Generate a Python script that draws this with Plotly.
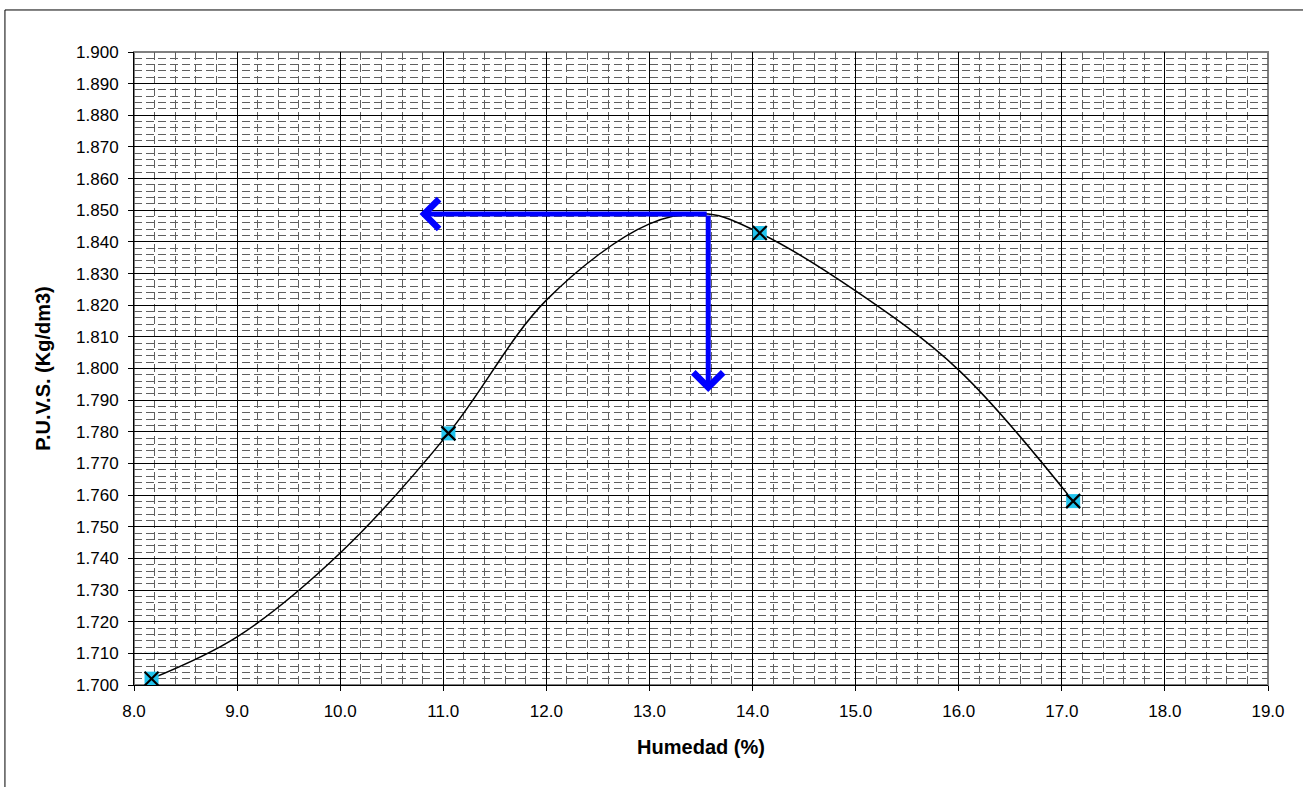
import plotly.graph_objects as go

# Measured points (markers)
hum_pts = [8.17, 11.05, 14.07, 17.11]
dens_pts = [1.702, 1.7795, 1.8428, 1.7581]

# Compaction curve
curve_x = [8.17, 9.0, 10.0, 11.05, 12.0, 13.0, 13.57, 14.07, 15.0, 16.0, 17.11]
curve_y = [1.702, 1.7152, 1.7417, 1.7795, 1.8216, 1.8457, 1.8488, 1.8428, 1.8245, 1.7995, 1.7581]

# Optimum (arrows)
hum_opt = 13.57
dens_max = 1.8488
arrow_left_x = 10.77
arrow_down_y = 1.7926

x_ticks = [8.0 + i for i in range(12)]
y_ticks = [round(1.70 + 0.01 * i, 3) for i in range(21)]

FONT = "Liberation Sans, Arial, sans-serif"

fig = go.Figure()

fig.add_trace(go.Scatter(x=curve_x, y=curve_y, mode="lines",
                         line=dict(color="black", width=1.5, shape="spline", smoothing=1.0),
                         hoverinfo="skip", showlegend=False))
fig.add_trace(go.Scatter(x=hum_pts, y=dens_pts, mode="markers",
                         marker=dict(symbol="square", size=14, color="#22C4EE",
                                     line=dict(width=0)),
                         showlegend=False))
fig.add_trace(go.Scatter(x=hum_pts, y=dens_pts, mode="markers",
                         marker=dict(symbol="x-thin-open", size=14, color="black",
                                     line=dict(width=2.2, color="black")),
                         showlegend=False))

axis_common = dict(
    showline=True, linecolor="black", linewidth=1,
    ticks="outside", ticklen=5, tickcolor="black", tickwidth=1,
    showgrid=True, gridcolor="black", gridwidth=1,
    zeroline=False,
    tickfont=dict(family=FONT, size=17, color="black"),
)

fig.update_xaxes(
    range=[8.0, 19.0], tickmode="array", tickvals=x_ticks,
    ticktext=[f"{v:.1f}" for v in x_ticks],
    minor=dict(dtick=0.2, tick0=8.0, showgrid=True, gridcolor="#606060",
               griddash="8px,4px", gridwidth=1, ticks=""),
    title=dict(text="<b>Humedad (%)</b>", font=dict(family=FONT, size=20, color="black"),
               standoff=19),
    ticklabelstandoff=6,
    **axis_common,
)
fig.update_yaxes(
    range=[1.700, 1.900], tickmode="array", tickvals=y_ticks,
    ticktext=[f"{v:.3f}" for v in y_ticks],
    minor=dict(dtick=0.002, tick0=1.7, showgrid=True, gridcolor="#606060",
               griddash="8px,4px", gridwidth=1, ticks=""),
    title=dict(text="<b>P.U.V.S. (Kg/dm3)</b>", font=dict(family=FONT, size=20, color="black"),
               standoff=20),
    ticklabelstandoff=6,
    **axis_common,
)

# Arrows
for ax_, ay_, x_, y_ in [(hum_opt, dens_max, arrow_left_x, dens_max),
                         (hum_opt, dens_max, hum_opt, arrow_down_y)]:
    fig.add_annotation(x=x_, y=y_, ax=ax_, ay=ay_, xref="x", yref="y",
                       axref="x", ayref="y", text="", showarrow=True,
                       arrowhead=4, arrowsize=1.15, arrowwidth=5, arrowcolor="#0000FF")

shapes = [
    dict(type="rect", xref="paper", yref="paper", x0=0, x1=1, y0=0, y1=1,
         line=dict(color="#808080", width=2), layer="below"),
    dict(type="rect", xref="paper", yref="paper", x0=-0.1138, x1=1.04, y0=-0.17, y1=1.0664,
         line=dict(color="black", width=1), layer="below"),
]
fig.update_layout(
    shapes=shapes,
    width=1303, height=787,
    margin=dict(l=134, r=35, t=52, b=102),
    paper_bgcolor="white", plot_bgcolor="white",
    font=dict(family=FONT, color="black"),
    showlegend=False,
)

fig.write_html("out.html")
